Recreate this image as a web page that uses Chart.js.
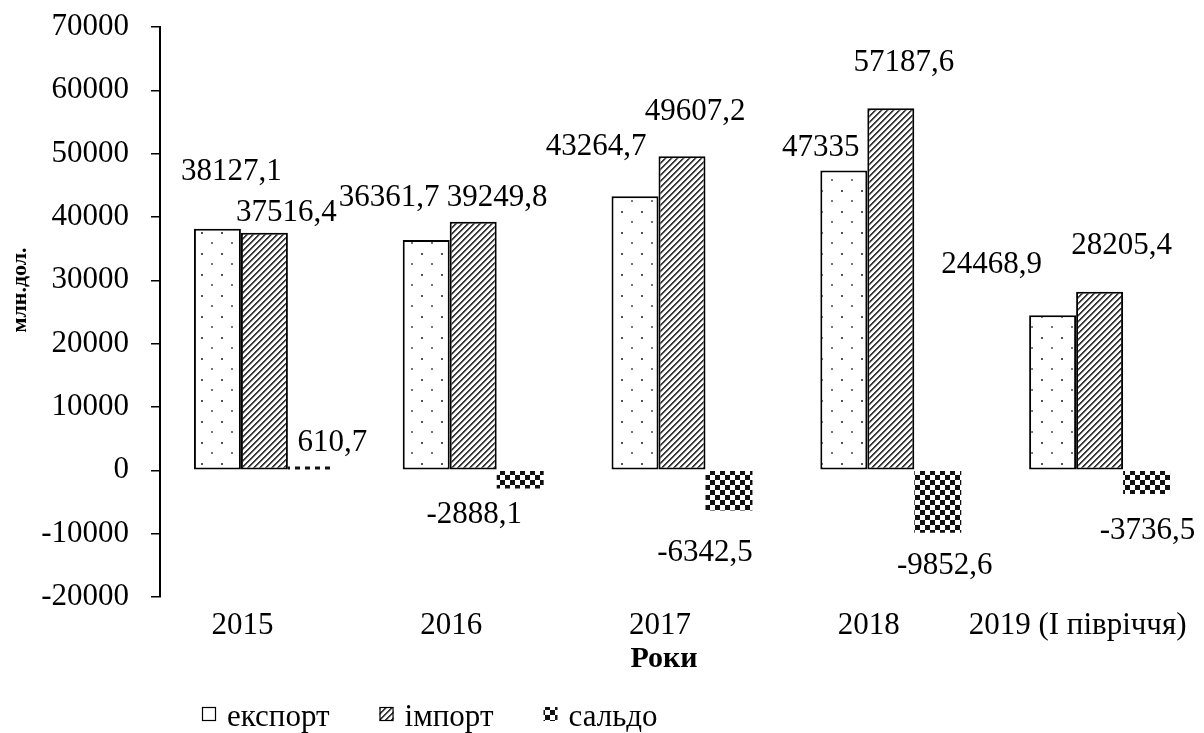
<!DOCTYPE html>
<html lang="uk">
<head>
<meta charset="utf-8">
<title>Експорт, імпорт та сальдо</title>
<script src="https://cdn.jsdelivr.net/npm/chart.js@4.4.1/dist/chart.umd.min.js"></script>
<style>
  html, body { margin: 0; padding: 0; background: #fff; }
  #wrap { width: 1204px; height: 733px; }
</style>
</head>
<body>
<div id="wrap"><canvas id="c" width="1204" height="733"></canvas></div>
<script>
// ---- data ----
const years = ['2015', '2016', '2017', '2018', '2019 (I півріччя)'];
const exportVals  = [38127.1, 36361.7, 43264.7, 47335, 24468.9];
const importVals  = [37516.4, 39249.8, 49607.2, 57187.6, 28205.4];
const balanceVals = [610.7, -2888.1, -6342.5, -9852.6, -3736.5];
const seriesNames = ['експорт', 'імпорт', 'сальдо'];
const yTitle = 'млн.дол.';
const xTitle = 'Роки';
const yMin = -20000, yMax = 70000, yStep = 10000;

// ---- value label nudges [dx, dy] from the bar's end, per series ----
const labelNudge = [
  [[14, -57], [-37, -42], [-39, -49], [-23, -23], [-61, -51]],
  [[22, -20], [24, -24], [13, -44], [13, -45], [22, -46]],
  [[21, -24], [-46, 26], [-24, 42], [7, 33], [1, 37]]
];

const FAMILY = '"Liberation Serif", "Times New Roman", serif';

// ---- fill patterns ----
function makeTile(w, h, draw) {
  const c = document.createElement('canvas');
  c.width = w; c.height = h;
  const g = c.getContext('2d');
  g.fillStyle = '#fff';
  g.fillRect(0, 0, w, h);
  draw(g);
  return c;
}
const dotTile = makeTile(20, 21, g => {
  g.fillStyle = '#555'; g.fillRect(1, 1, 2, 2);
  g.fillStyle = '#777'; g.fillRect(11, 11, 2, 2);
});
const hatchTile = makeTile(6, 6, g => {
  for (let x = 0; x < 6; x++) {
    for (let y = 0; y < 6; y++) {
      const k = (x + y) % 6;
      if (k === 0 || k === 1) { g.fillStyle = '#3a3a3a'; g.fillRect(x, y, 1, 1); }
      else if (k === 2) { g.fillStyle = '#b0b0b0'; g.fillRect(x, y, 1, 1); }
    }
  }
});
const checkTile = makeTile(10, 10, g => {
  g.fillStyle = '#111';
  g.fillRect(0, 0, 5, 5);
  g.fillRect(5, 5, 5, 5);
});

const canvas = document.getElementById('c');
const ctx = canvas.getContext('2d');
const dotFill = ctx.createPattern(dotTile, 'repeat');
const hatchFill = ctx.createPattern(hatchTile, 'repeat');
const checkFill = ctx.createPattern(checkTile, 'repeat');

const fmt = v => String(v).replace('.', ',');

// value labels next to every bar
const valueLabels = {
  id: 'valueLabels',
  afterDatasetsDraw(chart) {
    const c = chart.ctx;
    c.save();
    c.font = '31px ' + FAMILY;
    c.fillStyle = '#000';
    c.textAlign = 'center';
    c.textBaseline = 'middle';
    chart.data.datasets.forEach((ds, di) => {
      const meta = chart.getDatasetMeta(di);
      meta.data.forEach((bar, i) => {
        const [dx, dy] = labelNudge[di][i];
        c.fillText(fmt(ds.data[i]), bar.x + dx, bar.y + dy);
      });
    });
    c.restore();
  }
};

// axis titles and legend row
const axisTexts = {
  id: 'axisTexts',
  afterDraw(chart) {
    const c = chart.ctx;
    const area = chart.chartArea;
    c.save();
    c.fillStyle = '#000';

    // value axis title, rotated
    c.save();
    c.translate(20, (area.top + area.bottom) / 2 - 22);
    c.rotate(-Math.PI / 2);
    c.font = 'bold 22px ' + FAMILY;
    c.textAlign = 'center';
    c.textBaseline = 'middle';
    c.fillText(yTitle, 0, 0);
    c.restore();

    // category axis title
    c.font = 'bold 30px ' + FAMILY;
    c.textAlign = 'center';
    c.textBaseline = 'middle';
    c.fillText(xTitle, (area.left + area.right) / 2 - 18, 659);

    // legend
    c.font = '31px ' + FAMILY;
    c.textAlign = 'left';
    c.textBaseline = 'alphabetic';
    let x = area.left + 42;
    const boxTop = 707, box = 14;
    chart.data.datasets.forEach((ds) => {
      c.fillStyle = ds.backgroundColor;
      c.fillRect(x, boxTop, box, box);
      if (ds.borderWidth) {
        c.strokeStyle = '#000';
        c.lineWidth = 1.2;
        c.strokeRect(x + 0.5, boxTop + 0.5, box - 1, box - 1);
      }
      c.fillStyle = '#000';
      c.fillText(ds.label, x + box + 11, 726);
      x += box + 11 + c.measureText(ds.label).width + 50;
    });
    c.restore();
  }
};

new Chart(ctx, {
  type: 'bar',
  data: {
    labels: years,
    datasets: [
      { label: seriesNames[0], data: exportVals, backgroundColor: dotFill,
        borderColor: '#000', borderWidth: 2, borderSkipped: false },
      { label: seriesNames[1], data: importVals, backgroundColor: hatchFill,
        borderColor: '#000', borderWidth: 2, borderSkipped: false },
      { label: seriesNames[2], data: balanceVals, backgroundColor: checkFill,
        borderWidth: 0 }
    ]
  },
  options: {
    responsive: false,
    animation: false,
    devicePixelRatio: 1,
    layout: { padding: { top: 27, right: 0, bottom: 0, left: 0 } },
    datasets: { bar: { categoryPercentage: 0.675, barPercentage: 1 } },
    plugins: { legend: { display: false }, tooltip: { enabled: false } },
    scales: {
      x: {
        grid: { display: false },
        border: { display: false },
        ticks: {
          color: '#000', font: { family: FAMILY, size: 31 },
          padding: 2, labelOffset: -22, maxRotation: 0, autoSkip: false
        },
        afterFit(s) { s.height = 136; s.paddingLeft = 0; s.paddingRight = 0; }
      },
      y: {
        min: yMin, max: yMax,
        ticks: {
          stepSize: yStep, color: '#000', padding: 22,
          font: { family: FAMILY, size: 31 },
          callback: v => String(v)
        },
        grid: { drawOnChartArea: false, drawTicks: true, tickLength: 9, color: '#000', lineWidth: 1.5 },
        border: { display: true, color: '#000', width: 2 },
        afterFit(s) { s.width = 160; s.paddingTop = 0; s.paddingBottom = 0; }
      }
    }
  },
  plugins: [valueLabels, axisTexts]
});
</script>
</body>
</html>
